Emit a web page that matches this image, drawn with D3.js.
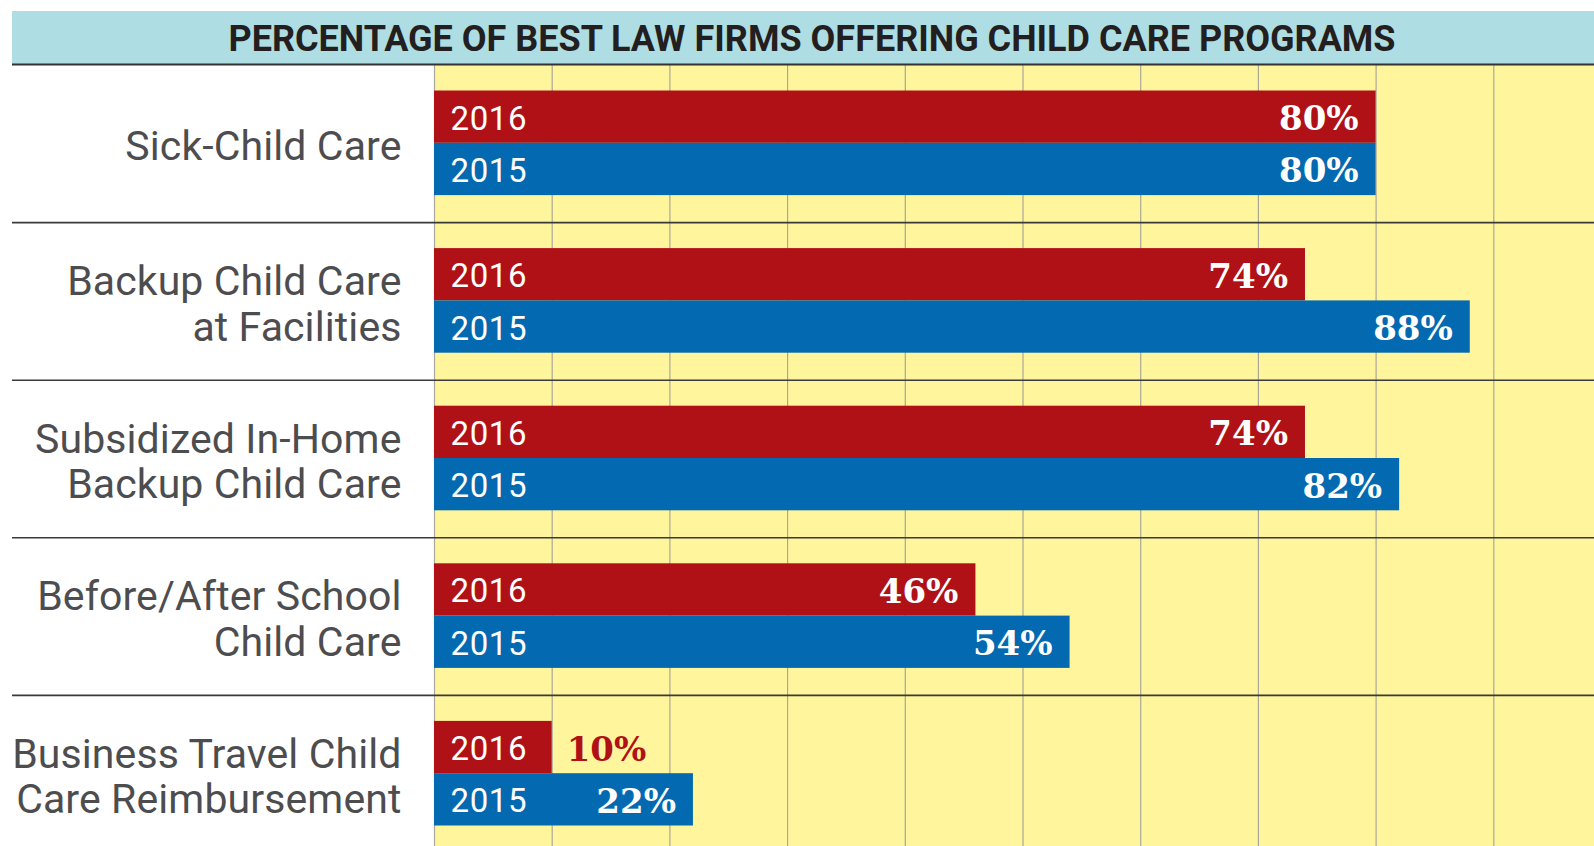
<!DOCTYPE html>
<html>
<head>
<meta charset="utf-8">
<script src="https://cdn.jsdelivr.net/npm/d3@7"></script>
<style>
  body { margin: 0; background: #fff; }
  svg { display: block; }
</style>
</head>
<body>
<svg id="chart"></svg>
<script>
// data
const title = "PERCENTAGE OF BEST LAW FIRMS OFFERING CHILD CARE PROGRAMS";
const categories = [
    ["Sick-Child Care"],
    ["Backup Child Care", "at Facilities"],
    ["Subsidized In-Home", "Backup Child Care"],
    ["Before/After School", "Child Care"],
    ["Business Travel Child", "Care Reimbursement"]
];
const years = ["2016", "2015"];
const values2016 = [80, 74, 74, 46, 10];
const values2015 = [80, 88, 82, 54, 22];

const WIDTH = 1594, HEIGHT = 846;
const PLOT_LEFT = 434, PLOT_TOP = 65, ROW_H = 157.6;
const COLORS = {"2016": "#B01117", "2015": "#0369B0"};

let svg = d3.select("#chart").attr("width", WIDTH).attr("height", HEIGHT);

//scales
let x = d3.scaleLinear().domain([0, 100]).range([PLOT_LEFT, PLOT_LEFT + 1177]);
let y = d3.scaleBand().domain(d3.range(categories.length))
    .range([PLOT_TOP, PLOT_TOP + ROW_H * categories.length]);
let ySub = d3.scaleBand().domain(years).range([25.5, 25.5 + 104.6]);

//yellow plot background + grid
svg.append("rect")
    .attr("x", PLOT_LEFT).attr("y", PLOT_TOP)
    .attr("width", WIDTH - PLOT_LEFT).attr("height", HEIGHT - PLOT_TOP)
    .attr("fill", "#FFF59C");
svg.append("g").selectAll("line")
    .data(d3.range(0, 100, 10).filter(t => x(t) <= WIDTH))
    .join("line")
    .attr("x1", d => x(d) + 0.5).attr("x2", d => x(d) + 0.5)
    .attr("y1", PLOT_TOP).attr("y2", HEIGHT)
    .attr("stroke", "#A9A89A").attr("stroke-width", 1.2);

//title band
svg.append("rect")
    .attr("x", 12).attr("y", 11).attr("width", WIDTH - 12).attr("height", 53)
    .attr("fill", "#AEDDE3");
let titleText = svg.append("text")
    .attr("x", 812).attr("y", 51)
    .attr("text-anchor", "middle")
    .attr("font-family", "Roboto")
    .attr("font-weight", "bold")
    .attr("font-size", 36)
    .attr("fill", "#231F20")
    .text(title);
if (titleText.node().getComputedTextLength() > 1172)
    titleText.attr("textLength", 1172).attr("lengthAdjust", "spacingAndGlyphs");
svg.append("line")
    .attr("x1", 12).attr("x2", WIDTH).attr("y1", 64.5).attr("y2", 64.5)
    .attr("stroke", "#333").attr("stroke-width", 2);

//row separators
svg.append("g").selectAll("line")
    .data(d3.range(1, categories.length))
    .join("line")
    .attr("x1", 12).attr("x2", WIDTH)
    .attr("y1", d => y(d)).attr("y2", d => y(d))
    .attr("stroke", "#3a3a3a").attr("stroke-width", 1.6);

//rows
let rows = svg.append("g").selectAll("g")
    .data(categories.map((c, i) => ({
        lines: c,
        bars: [{year: "2016", value: values2016[i]}, {year: "2015", value: values2015[i]}]
    })))
    .join("g")
    .attr("transform", (d, i) => `translate(0,${y(i)})`);

//category labels
const LINE_H = 45.5, CAP = 29;
rows.append("text")
    .attr("text-anchor", "end")
    .attr("font-family", "Roboto")
    .attr("font-size", 41)
    .attr("letter-spacing", 0.1)
    .attr("fill", "#4D4D4F")
    .each(function(d){
        let n = d.lines.length;
        let firstBase = ROW_H / 2 + 2 - ((n - 1) * LINE_H + CAP) / 2 + CAP;
        d3.select(this).selectAll("tspan").data(d.lines).join("tspan")
            .attr("x", 401.5)
            .attr("y", (l, j) => firstBase + j * LINE_H)
            .text(l => l);
    });

//bars
let bars = rows.selectAll("g.bar").data(d => d.bars).join("g").attr("class", "bar");
bars.append("rect")
    .attr("x", x(0))
    .attr("y", d => ySub(d.year))
    .attr("width", d => x(d.value) - x(0))
    .attr("height", ySub.bandwidth())
    .attr("fill", d => COLORS[d.year]);
bars.append("text")
    .attr("class", "year")
    .attr("x", x(0) + 16.5)
    .attr("y", d => ySub(d.year) + ySub.bandwidth() / 2 + 13)
    .attr("font-family", "Roboto")
    .attr("font-size", 33)
    .attr("letter-spacing", 0.6)
    .attr("fill", "#fff")
    .text(d => d.year);
bars.append("text")
    .attr("class", "value")
    .attr("y", d => ySub(d.year) + ySub.bandwidth() / 2 + 13.5)
    .attr("font-family", "DejaVu Serif")
    .attr("font-weight", "bold")
    .attr("font-size", 34)
    .text(d => d.value + "%")
    .each(function(d){
        let t = d3.select(this);
        let w = this.getComputedTextLength();
        let yearEnd = x(0) + 16.5 + 80;
        if (x(d.value) - 17 - w > yearEnd)
            t.attr("x", x(d.value) - 17).attr("text-anchor", "end").attr("fill", "#fff");
        else
            t.attr("x", x(d.value) + 15).attr("text-anchor", "start").attr("fill", COLORS[d.year]);
    });
</script>
</body>
</html>
